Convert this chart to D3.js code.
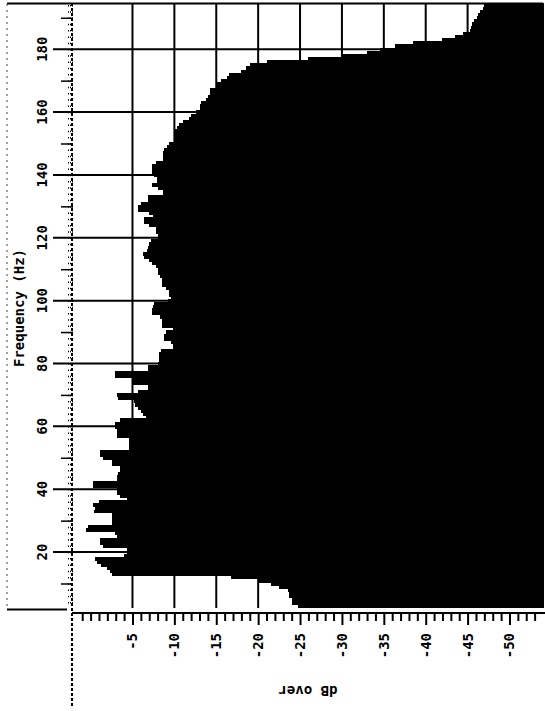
<!DOCTYPE html>
<html>
<head>
<meta charset="utf-8">
<script src="https://cdn.jsdelivr.net/npm/d3@7"></script>
<style>
  body { margin: 0; background: #fff; }
  svg text { font-family: "DejaVu Sans Mono", monospace; font-weight: bold; fill: #000; }
</style>
</head>
<body>
<svg id="chart"></svg>
<script>
// axis labels / ticks
const freqTicks = [20, 40, 60, 80, 100, 120, 140, 160, 180];
const freqMidTicks = [10, 30, 50, 70, 90, 110, 130, 150, 170, 190];
const dbTicks = [-5, -10, -15, -20, -25, -30, -35, -40, -45, -50];
const dbMinorTicks = [1, 0, -1, -2, -3, -4, -6, -7, -8, -9, -11, -12, -13, -14, -16, -17, -18, -19,
    -21, -22, -23, -24, -26, -27, -28, -29, -31, -32, -33, -34, -36, -37, -38, -39,
    -41, -42, -43, -44, -46, -47, -48, -49, -51, -52, -53];

// 1 Hz bins, first bin centred on 3 Hz
const firstFreq = 3;
const levelDb = [
    -24.8, -24.0, -24.0, -23.7, -23.7, -23.6, -22.5, -21.5, -20.0, -16.8,   // 3-12
    -2.6, -2.3, -2.0, -1.3, -0.8, -0.5, -4.0, -4.4, -4.4, -1.5,              // 13-22
    -1.1, -1.1, -3.1, -2.9, 0.5, 0.3, -2.5, -2.6, -2.6, -2.5,                // 23-32
    -0.4, -0.5, -0.3, -1.0, -4.4, -3.5, -3.1, -3.1, -0.3, -0.3,              // 33-42
    -3.1, -3.1, -3.3, -3.5, -3.5, -2.6, -2.6, -1.5, -1.1, -1.1,              // 43-52
    -4.6, -4.6, -4.6, -4.6, -3.2, -3.2, -3.2, -2.9, -2.9, -3.5,              // 53-62
    -6.6, -6.3, -6.0, -5.6, -5.3, -5.2, -3.3, -3.2, -5.6, -6.8,              // 63-72
    -6.8, -4.9, -4.9, -2.9, -2.9, -6.8, -6.8, -8.0, -8.2, -8.2,              // 73-82
    -8.2, -8.4, -9.8, -9.8, -9.6, -8.8, -8.8, -9.0, -9.8, -8.5,              // 83-92
    -8.5, -8.5, -8.3, -7.3, -7.3, -7.5, -7.6, -9.2, -9.6, -9.4,              // 93-102
    -9.4, -9.0, -8.5, -8.5, -8.5, -8.3, -8.0, -8.0, -7.8, -7.3,              // 103-112
    -7.0, -6.4, -6.3, -6.7, -6.8, -7.0, -7.2, -8.0, -8.0, -7.8,              // 113-122
    -7.8, -7.0, -6.4, -6.4, -7.4, -7.0, -5.6, -5.6, -6.0, -6.8,              // 123-132
    -6.8, -8.6, -8.6, -8.0, -7.3, -7.9, -7.9, -7.6, -7.3, -7.3,              // 133-142
    -7.3, -7.8, -8.6, -8.6, -8.6, -8.8, -9.1, -9.3, -10.1, -10.1,            // 143-152
    -10.1, -10.1, -10.3, -10.6, -11.0, -11.8, -12.0, -12.6, -13.0, -13.0,    // 153-162
    -13.2, -13.8, -14.0, -14.2, -14.3, -15.0, -15.0, -15.6, -16.3, -16.5,    // 163-172
    -18.0, -18.5, -19.0, -21.0, -26.0, -30.0, -33.0, -34.5, -36.3, -38.5,    // 173-182
    -42.0, -43.5, -44.5, -45.3, -45.4, -45.5, -45.8, -46.1, -46.2, -46.5,    // 183-192
    -46.8, -47.0                                                             // 193-194
];

class LevelChart {
    margin = { top: 3, right: 2, bottom: 103, left: 73 }

    constructor(svg, width, height) {
        this.svg = svg;
        this.width = width;
        this.height = height;
    }

    initialize() {
        this.svg = d3.select(this.svg)
            .attr("width", this.width)
            .attr("height", this.height);

        const plotW = this.width - this.margin.left - this.margin.right;
        const plotH = this.height - this.margin.top - this.margin.bottom;
        this.plotW = plotW;
        this.plotH = plotH;

        // dB runs left to right, frequency bottom to top
        this.xScale = d3.scaleLinear()
            .domain([2.1, -54])
            .range([0, plotW]);

        this.yScale = d3.scaleLinear()
            .domain([2.2, 194.7])
            .range([plotH, 0]);

        this.container = this.svg.append("g")
            .attr("transform", `translate(${this.margin.left}, ${this.margin.top})`);
        this.grid = this.container.append("g");
        this.bars = this.container.append("g");
        this.axes = this.container.append("g");
        this.labels = this.container.append("g");
    }

    update(levels) {
        const x = this.xScale, y = this.yScale;
        const data = levels.map((v, i) => ({ f: firstFreq + i, db: v }));

        // grid
        this.grid.selectAll("line.v")
            .data(dbTicks)
            .join("line")
            .attr("class", "v")
            .attr("x1", d => x(d)).attr("x2", d => x(d))
            .attr("y1", 0).attr("y2", this.plotH)
            .attr("stroke", "#000").attr("stroke-width", 2);

        this.grid.selectAll("line.h")
            .data(freqTicks)
            .join("line")
            .attr("class", "h")
            .attr("x1", -20).attr("x2", this.plotW)
            .attr("y1", d => y(d)).attr("y2", d => y(d))
            .attr("stroke", "#000").attr("stroke-width", 2);

        // level bars, filled from the right edge
        this.bars.selectAll("rect")
            .data(data)
            .join("rect")
            .attr("x", d => x(d.db))
            .attr("width", d => this.plotW - x(d.db))
            .attr("y", d => y(d.f + 0.5))
            .attr("height", d => y(d.f - 0.5) - y(d.f + 0.5) + 0.6)
            .attr("fill", "#000")
            .attr("shape-rendering", "crispEdges");

        // frame
        this.axes.append("line")
            .attr("x1", -66).attr("x2", this.plotW)
            .attr("y1", 0.5).attr("y2", 0.5)
            .attr("stroke", "#000").attr("stroke-width", 2);
        this.axes.append("line")
            .attr("x1", this.plotW).attr("x2", this.plotW)
            .attr("y1", 0).attr("y2", this.plotH)
            .attr("stroke", "#000").attr("stroke-width", 2);
        this.axes.append("line")
            .attr("x1", -66).attr("x2", -66)
            .attr("y1", 1).attr("y2", this.plotH + 2)
            .attr("stroke", "#444").attr("stroke-width", 1)
            .attr("stroke-dasharray", "2,4");
        this.axes.append("line")
            .attr("x1", -66).attr("x2", -6)
            .attr("y1", this.plotH + 1.5).attr("y2", this.plotH + 1.5)
            .attr("stroke", "#000").attr("stroke-width", 2);

        // frequency axis: dotted spine with ticks
        this.axes.append("line")
            .attr("x1", -1).attr("x2", -1)
            .attr("y1", 0).attr("y2", this.height - 6)
            .attr("stroke", "#000").attr("stroke-width", 2)
            .attr("stroke-dasharray", "3,2");

        const freqMinor = this.axes.append("g")
            .call(d3.axisLeft(y).tickValues(d3.range(4, 195, 2)).tickSize(5).tickFormat(""));
        const freqMid = this.axes.append("g")
            .call(d3.axisLeft(y).tickValues(freqMidTicks).tickSize(12).tickFormat(""));
        [freqMinor, freqMid].forEach(g => {
            g.select(".domain").remove();
            g.selectAll("line").attr("stroke", "#000").attr("stroke-width", 1.5);
        });
        freqMinor.selectAll("line").attr("stroke-dasharray", "1,1");

        // dB axis along the bottom
        const dbAxisY = this.plotH + 5;
        this.axes.append("line")
            .attr("x1", -1).attr("x2", this.plotW + 2)
            .attr("y1", dbAxisY).attr("y2", dbAxisY)
            .attr("stroke", "#000").attr("stroke-width", 2);

        const dbMinor = this.axes.append("g")
            .attr("transform", `translate(0, ${dbAxisY})`)
            .call(d3.axisBottom(x).tickValues(dbMinorTicks).tickSize(8).tickFormat(""));
        const dbMajor = this.axes.append("g")
            .attr("transform", `translate(0, ${dbAxisY})`)
            .call(d3.axisBottom(x).tickValues(dbTicks).tickSize(12).tickFormat(""));
        [dbMinor, dbMajor].forEach(g => {
            g.select(".domain").remove();
            g.selectAll("line").attr("stroke", "#000").attr("stroke-width", 2);
        });

        // tick labels, rotated with the page
        this.labels.selectAll("text.freq")
            .data(freqTicks)
            .join("text")
            .attr("class", "freq")
            .attr("transform", d => `translate(-26, ${y(d)}) rotate(-90)`)
            .attr("text-anchor", "middle")
            .attr("font-size", 14)
            .text(d => d);

        this.labels.selectAll("text.db")
            .data(dbTicks)
            .join("text")
            .attr("class", "db")
            .attr("transform", d => `translate(${x(d) + 5}, ${this.plotH + 25}) rotate(-90)`)
            .attr("text-anchor", "end")
            .attr("font-size", 14)
            .text(d => String(d));

        this.labels.append("text")
            .attr("transform", `translate(-49, 305) rotate(-90)`)
            .attr("text-anchor", "middle")
            .attr("font-size", 14)
            .text("Frequency (Hz)");

        this.labels.append("text")
            .attr("transform", `translate(235, ${this.plotH + 78}) rotate(180)`)
            .attr("text-anchor", "middle")
            .attr("font-size", 14)
            .text("dB over");
    }
}

const chart = new LevelChart(document.getElementById("chart"), 545, 711);
chart.initialize();
chart.update(levelDb);
</script>
</body>
</html>
